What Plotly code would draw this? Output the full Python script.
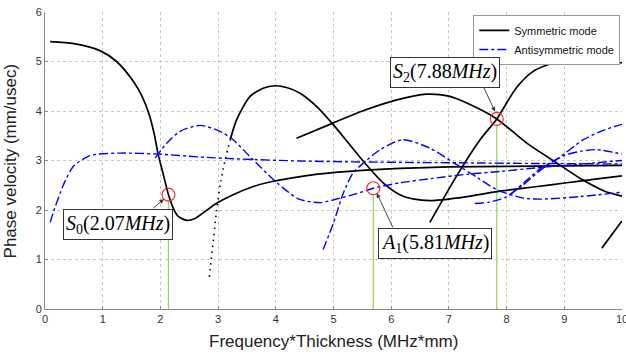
import plotly.graph_objects as go

# ---------------- data ----------------
# Symmetric modes (black solid)
s0_x = [0.09, 0.5, 0.95, 1.24, 1.53, 1.68, 1.8, 1.89, 1.96, 2.05, 2.14, 2.23, 2.31, 2.46, 2.6, 2.75, 2.98, 3.26, 3.6, 3.96, 4.4, 4.77, 5.5, 6.15, 7.0, 8.0, 9.0, 10.0]
s0_y = [5.40, 5.36, 5.22, 5.0, 4.6, 4.3, 3.95, 3.55, 3.13, 2.72, 2.31, 2.02, 1.87, 1.79, 1.83, 1.95, 2.14, 2.31, 2.47, 2.58, 2.67, 2.73, 2.80, 2.84, 2.87, 2.88, 2.89, 2.90]

s1_dot_x = [2.85, 2.88, 2.92, 2.97, 3.05, 3.13, 3.21]
s1_dot_y = [0.65, 1.0, 1.4, 1.95, 2.6, 3.05, 3.42]
s1_x = [3.21, 3.32, 3.55, 3.78, 3.99, 4.2, 4.42, 4.71, 5.0, 5.52, 5.86, 6.15, 6.4, 6.67, 7.0, 7.31, 7.89, 8.5, 9.04, 9.5, 10.0]
s1_y = [3.42, 3.82, 4.29, 4.46, 4.51, 4.47, 4.36, 4.09, 3.72, 2.98, 2.55, 2.31, 2.22, 2.19, 2.22, 2.27, 2.38, 2.47, 2.55, 2.62, 2.69]

s2_x = [4.36, 5.0, 5.5, 6.15, 6.61, 7.0, 7.31, 7.83, 8.35, 8.87, 9.3, 9.7, 10.0]
s2_y = [3.45, 3.76, 4.0, 4.24, 4.34, 4.30, 4.16, 3.84, 3.35, 2.95, 2.62, 2.38, 2.28]

s3_x = [6.67, 7.13, 7.54, 7.83, 8.17, 8.46, 8.81, 9.1, 9.45, 9.8, 10.0]
s3_y = [1.75, 2.68, 3.42, 3.84, 4.47, 4.80, 4.97, 5.03, 5.05, 5.01, 4.97]

s4_x = [9.65, 10.0]
s4_y = [1.23, 1.78]

# Antisymmetric modes (blue dash-dot)
a0_x = [0.09, 0.14, 0.32, 0.49, 0.78, 1.3, 1.96, 2.69, 3.38, 4.42, 5.5, 6.5, 7.5, 8.5, 10.0]
a0_y = [1.75, 1.94, 2.51, 2.88, 3.10, 3.15, 3.13, 3.07, 3.03, 2.99, 2.97, 2.96, 2.95, 2.94, 2.93]

a1_x = [1.91, 2.11, 2.34, 2.69, 3.03, 3.26, 3.55, 4.02, 4.4, 4.77, 5.11, 5.4, 5.69, 6.15, 6.73, 7.3, 7.89, 8.5, 9.0, 10.0]
a1_y = [3.05, 3.35, 3.59, 3.71, 3.59, 3.42, 3.08, 2.55, 2.22, 2.15, 2.24, 2.33, 2.44, 2.55, 2.64, 2.72, 2.78, 2.85, 2.90, 3.0]

a2_x = [4.82, 5.0, 5.17, 5.34, 5.52, 5.81, 6.2, 6.67, 7.13, 7.5, 7.83, 8.29, 8.6, 9.27, 10.0]
a2_y = [1.20, 1.74, 2.34, 2.75, 2.95, 3.22, 3.42, 3.25, 2.92, 2.65, 2.41, 2.24, 2.22, 2.27, 2.36]

a3_x = [7.45, 7.7, 7.97, 8.26, 8.67, 9.0, 9.3, 9.56, 10.0]
a3_y = [2.13, 2.16, 2.25, 2.48, 2.88, 3.10, 3.19, 3.22, 3.13]

a4_x = [8.05, 8.3, 8.6, 8.9, 9.33, 9.7, 10.0]
a4_y = [2.30, 2.55, 2.85, 3.05, 3.42, 3.62, 3.73]

# Marked points (red circles + green drop lines)
mark_x = [2.14, 5.69, 7.83]
mark_y = [2.31, 2.44, 3.84]

# Callout labels
label_text = ["<i>S</i><sub>0</sub>(2.07<i>MHz</i>)",
              "<i>A</i><sub>1</sub>(5.81<i>MHz</i>)",
              "<i>S</i><sub>2</sub>(7.88<i>MHz</i>)"]
label_x = [1.27, 6.76, 6.93]
label_y = [1.70, 1.32, 4.77]
arrow_tail_x = [1.85, 6.04, 7.59]
arrow_tail_y = [2.01, 1.62, 4.51]
arrow_tip_x = [2.06, 5.75, 7.80]
arrow_tip_y = [2.22, 2.34, 3.99]

sym_name = "Symmetric mode"
anti_name = "Antisymmetric mode"

# ---------------- figure ----------------
fig = go.Figure()

GREEN = "#9fd36a"
for mx, my in zip(mark_x, mark_y):
    fig.add_trace(go.Scatter(x=[mx, mx], y=[0, my - 0.12], mode="lines",
                             line=dict(color=GREEN, width=1.3),
                             showlegend=False, hoverinfo="skip"))

BLACK = dict(color="black", width=1.7)
BLUE = dict(color="#0000ff", width=1.4, dash="dashdot")

sym_sets = [(s0_x, s0_y), (s1_x, s1_y), (s2_x, s2_y), (s3_x, s3_y), (s4_x, s4_y)]
for i, (xs, ys) in enumerate(sym_sets):
    fig.add_trace(go.Scatter(x=xs, y=ys, mode="lines", line=dict(**BLACK, shape="spline", smoothing=0.7),
                             name=sym_name, legendgroup="s", showlegend=(i == 0)))
fig.add_trace(go.Scatter(x=s1_dot_x, y=s1_dot_y, mode="lines",
                         line=dict(color="black", width=1.6, dash="1.5px,4.5px", shape="spline"),
                         legendgroup="s", showlegend=False))

anti_sets = [(a0_x, a0_y), (a1_x, a1_y), (a2_x, a2_y), (a3_x, a3_y), (a4_x, a4_y)]
for i, (xs, ys) in enumerate(anti_sets):
    fig.add_trace(go.Scatter(x=xs, y=ys, mode="lines", line=dict(**BLUE, shape="spline", smoothing=0.7),
                             name=anti_name, legendgroup="a", showlegend=(i == 0)))

fig.add_trace(go.Scatter(x=mark_x, y=mark_y, mode="markers",
                         marker=dict(symbol="circle-open", size=13, color="#ff2020", line=dict(width=1.1)),
                         showlegend=False))

annotations = []
for t, lx, ly in zip(label_text, label_x, label_y):
    annotations.append(dict(x=lx, y=ly, xref="x", yref="y", text=t, showarrow=False,
                            font=dict(family="Liberation Serif, Times New Roman, serif", size=20, color="black"),
                            bgcolor="white", bordercolor="#333333", borderwidth=1, borderpad=2))
for tx, ty, hx, hy in zip(arrow_tail_x, arrow_tail_y, arrow_tip_x, arrow_tip_y):
    annotations.append(dict(x=hx, y=hy, xref="x", yref="y", ax=tx, ay=ty, axref="x", ayref="y",
                            text="", showarrow=True, arrowhead=2, arrowsize=1, arrowwidth=0.9,
                            arrowcolor="#333333"))
annotations.append(dict(x=0.5, y=-0.11, xref="paper", yref="paper", text="Frequency*Thickness (MHz*mm)",
                        showarrow=False, xanchor="center", yanchor="middle",
                        font=dict(family="Liberation Sans, Arial, sans-serif", size=17, color="#222222")))
annotations.append(dict(x=-0.059, y=0.5, xref="paper", yref="paper", text="Phase velocity (mm/usec)",
                        showarrow=False, xanchor="center", yanchor="middle", textangle=-90,
                        font=dict(family="Liberation Sans, Arial, sans-serif", size=17, color="#222222")))

axis_common = dict(showgrid=True, gridcolor="#c8c8c8", griddash="dot", gridwidth=1,
                   showline=True, linecolor="#888888", linewidth=1, ticks="inside", ticklen=3,
                   tickcolor="#888888", zeroline=False, dtick=1, ticklabeloverflow="allow",
                   automargin=False,
                   tickfont=dict(family="Liberation Sans, Arial, sans-serif", size=11, color="#333333"))

fig.update_layout(
    width=626, height=356,
    margin=dict(l=45, r=4, t=12, b=47, autoexpand=False),
    paper_bgcolor="white", plot_bgcolor="white",
    xaxis=dict(range=[0, 10], **axis_common),
    yaxis=dict(range=[0, 6], **axis_common),
    annotations=annotations,
    legend=dict(x=0.997, y=0.99, xanchor="right", yanchor="top", bgcolor="white",
                bordercolor="#999999", borderwidth=1, itemwidth=30, tracegroupgap=0,
                font=dict(family="Liberation Sans, Arial, sans-serif", size=11, color="#111111")),
    showlegend=True,
)

fig.write_html("out.html", config={"displayModeBar": False},
               post_script="document.body.style.margin='0px';")
